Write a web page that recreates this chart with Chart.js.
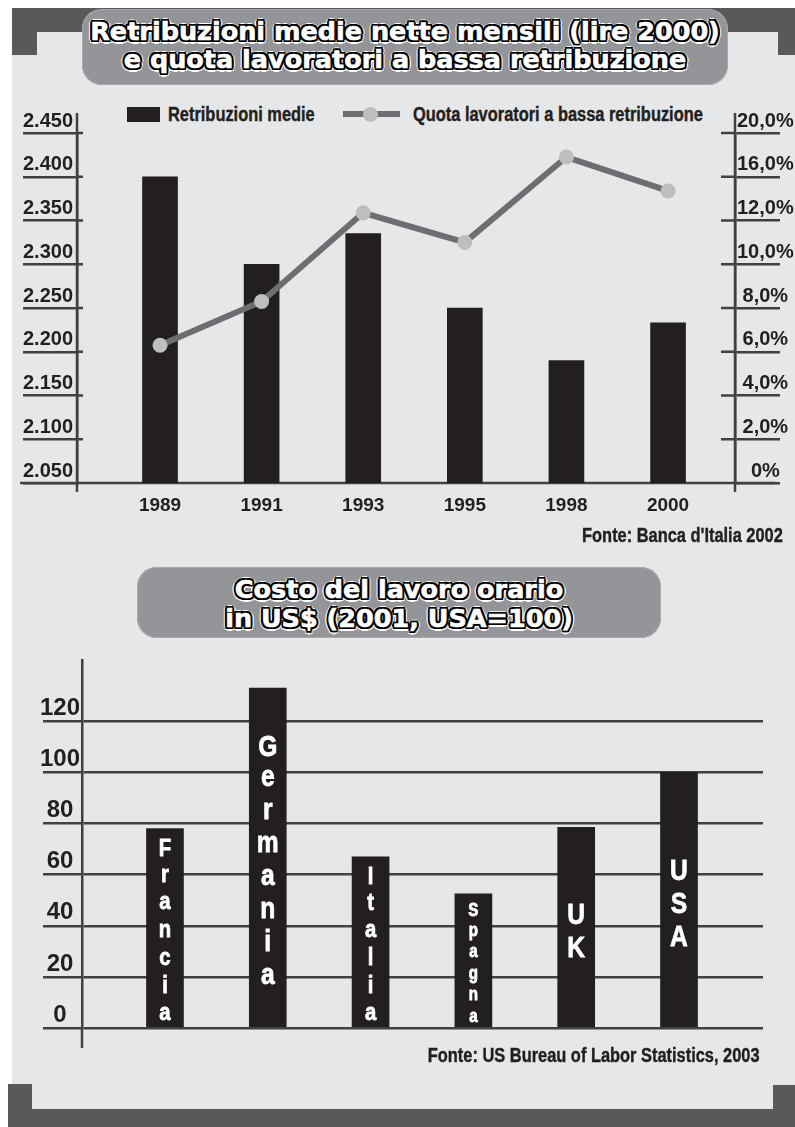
<!DOCTYPE html>
<html lang="it">
<head>
<meta charset="UTF-8">
<title>Retribuzioni medie e costo del lavoro</title>
<script src="https://cdn.jsdelivr.net/npm/chart.js@4.4.1/dist/chart.umd.min.js"></script>
<style>
  body {
    margin: 0;
    width: 795px;
    height: 1127px;
    position: relative;
    overflow: hidden;
    background: #fff;
    font-family: "Liberation Sans", Arial, sans-serif;
  }
  .abs { position: absolute; }
  #sheet { left: 12px; top: 8px; width: 783px; height: 1119px; background: #e6e7e8; }
  .frame { background: #58595b; }
  .pill {
    background: #939598;
    border-radius: 20px;
    box-shadow: inset 0 0 0 1px #a7a9ac;
  }
  .ttl {
    color: #fff;
    font-family: "DejaVu Sans", sans-serif;
    font-weight: bold;
    font-size: 25.5px;
    text-align: center;
    white-space: nowrap;
    -webkit-text-stroke: 0.6px #fff;
    text-shadow:
      2.4px 0 #000, -2.4px 0 #000, 0 2.4px #000, 0 -2.4px #000,
      1.8px 1.8px #000, -1.8px 1.8px #000, 1.8px -1.8px #000, -1.8px -1.8px #000,
      3.5px 0 #fff, -3.5px 0 #fff, 0 3.5px #fff, 0 -3.5px #fff,
      2.5px 2.5px #fff, -2.5px 2.5px #fff, 2.5px -2.5px #fff, -2.5px -2.5px #fff;
  }
  /* no narrow face installed, so squeeze Liberation Sans Bold */
  .txt {
    font-weight: bold;
    font-size: 20px;
    line-height: 22px;
    color: #231f20;
    white-space: nowrap;
    -webkit-text-stroke: 0.4px #231f20;
    transform: scaleX(0.82);
    transform-origin: left center;
  }
  .txt.r { transform-origin: right center; }
  canvas { position: absolute; left: 0; }
</style>
</head>
<body>
  <div id="sheet" class="abs"></div>

  <!-- dark frame pieces -->
  <div class="abs frame" style="left:12px;top:8px;width:783px;height:24px"></div>
  <div class="abs frame" style="left:12px;top:8px;width:25px;height:47px"></div>
  <div class="abs frame" style="left:778px;top:8px;width:17px;height:47px"></div>
  <div class="abs frame" style="left:8px;top:1109px;width:787px;height:18px"></div>
  <div class="abs frame" style="left:8px;top:1084px;width:24px;height:43px"></div>
  <div class="abs frame" style="left:773px;top:1085px;width:22px;height:42px"></div>

  <div class="abs pill" style="left:82px;top:9px;width:646px;height:76px">
    <div class="ttl" style="padding-top:8px;line-height:28px">
      Retribuzioni medie nette mensili (lire 2000)<br>e quota lavoratori a bassa retribuzione
    </div>
  </div>

  <!-- legend -->
  <div class="abs" style="left:127px;top:107px;width:33px;height:15px;background:#231f20"></div>
  <div class="abs txt" style="left:168px;top:103px">Retribuzioni medie</div>
  <div class="abs" style="left:343px;top:111px;width:57px;height:6px;background:#6d6e71"></div>
  <div class="abs" style="left:363px;top:107px;width:15px;height:15px;border-radius:50%;background:#bcbec0"></div>
  <div class="abs txt" style="left:413px;top:103px">Quota lavoratori a bassa retribuzione</div>

  <canvas id="topChart" width="795" height="440" style="top:90px"></canvas>
  <div class="abs txt r" style="right:12px;top:524px">Fonte: Banca d'Italia 2002</div>

  <div class="abs pill" style="left:137px;top:567px;width:524px;height:71px">
    <div class="ttl" style="padding-top:8px;line-height:29px">
      Costo del lavoro orario<br>in US$ (2001, USA=100)
    </div>
  </div>

  <canvas id="bottomChart" width="795" height="440" style="top:640px"></canvas>
  <div class="abs txt r" style="right:35px;top:1044px">Fonte: US Bureau of Labor Statistics, 2003</div>

<script>
  // retribuzioni (lire 2000) and share of low-paid workers (%)
  var years = ["1989", "1991", "1993", "1995", "1998", "2000"];
  var retribuzioni = [2400, 2300, 2335, 2250, 2190, 2233];
  var quotaBassa = [6.3, 8.3, 12.7, 11.0, 17.8, 14.7];
  var retribTicks = [2050, 2100, 2150, 2200, 2250, 2300, 2350, 2400, 2450];
  var quotaTicks = [0, 2, 4, 6, 8, 10, 12, 16, 20];

  // hourly labour cost, USA = 100
  var paesi = ["Francia", "Germania", "Italia", "Spagna", "UK", "USA"];
  var costoOrario = [78, 133, 67, 52.5, 78.5, 100];
  var costoTicks = [0, 20, 40, 60, 80, 100, 120];

  var axisColor = "#414042";
  var inkColor = "#231f20";

  function fmtLire(v) {
    return Math.floor(v / 1000) + "." + String(v % 1000).padStart(3, "0");
  }

  function fmtPct(v) {
    return v === 0 ? "0%" : v.toFixed(1).replace(".", ",") + "%";
  }

  // the right axis of the original has uneven steps (…12, 16, 20),
  // so values are placed piecewise between the printed ticks
  class QuotaScale extends Chart.LinearScale {
    determineDataLimits() {
      this.min = 0;
      this.max = quotaTicks.length - 1;
    }
    buildTicks() {
      return quotaTicks.map(function (v) { return { value: v }; });
    }
    getPixelForValue(value) {
      var s = quotaTicks;
      var i = 0;
      while (i < s.length - 2 && value > s[i + 1]) i++;
      var pos = i + (value - s[i]) / (s[i + 1] - s[i]);
      return super.getPixelForValue(pos);
    }
  }
  QuotaScale.id = "quota";
  QuotaScale.defaults = {};
  Chart.register(QuotaScale);

  var topExtras = {
    id: "topExtras",
    beforeDatasetsDraw: function (chart) {
      var ctx = chart.ctx;
      var a = chart.chartArea;
      var y = chart.scales.y;
      var y2 = chart.scales.y2;
      ctx.save();
      ctx.strokeStyle = axisColor;
      ctx.lineWidth = 2.5;
      ctx.beginPath();
      ctx.moveTo(a.left, a.top - 20);
      ctx.lineTo(a.left, a.bottom + 9);
      ctx.moveTo(a.right, a.top - 20);
      ctx.lineTo(a.right, a.bottom + 9);
      ctx.moveTo(20, a.bottom);
      ctx.lineTo(775, a.bottom);
      y.ticks.forEach(function (t) {
        var py = y.getPixelForValue(t.value);
        ctx.moveTo(a.left, py);
        ctx.lineTo(a.left + 6, py);
      });
      y2.ticks.forEach(function (t) {
        var py = y2.getPixelForValue(t.value);
        ctx.moveTo(a.right - 14, py);
        ctx.lineTo(a.right, py);
      });
      ctx.stroke();
      ctx.restore();
    }
  };

  new Chart(document.getElementById("topChart"), {
    type: "bar",
    data: {
      datasets: [
        {
          type: "line",
          label: "Quota lavoratori a bassa retribuzione",
          yAxisID: "y2",
          data: years.map(function (yr, i) { return { x: i, y: quotaBassa[i] }; }),
          borderColor: "#6d6e71",
          borderWidth: 6,
          pointRadius: 7.5,
          pointBackgroundColor: "#bcbec0",
          pointBorderWidth: 0,
          tension: 0,
          order: 0
        },
        {
          type: "bar",
          label: "Retribuzioni medie",
          yAxisID: "y",
          data: years.map(function (yr, i) { return { x: i, y: retribuzioni[i] }; }),
          backgroundColor: inkColor,
          barThickness: 35,
          order: 1
        }
      ]
    },
    options: {
      responsive: false,
      animation: false,
      events: [],
      layout: { padding: { top: 43, left: 0, right: 0, bottom: 0 } },
      plugins: { legend: { display: false }, tooltip: { enabled: false } },
      scales: {
        x: {
          type: "linear",
          offset: false,
          min: -0.817,
          max: 5.659,
          grid: { display: false, offset: false },
          border: { display: false },
          afterBuildTicks: function (s) {
            s.ticks = years.map(function (yr, i) { return { value: i }; });
          },
          afterFit: function (s) { s.height = 47; },
          ticks: {
            callback: function (v) { return years[v]; },
            font: { family: "Liberation Sans", weight: "bold", size: 19 },
            color: inkColor,
            padding: 3,
            maxRotation: 0,
            autoSkip: false
          }
        },
        y: {
          position: "left",
          min: 2050,
          max: 2450,
          afterBuildTicks: function (s) {
            s.ticks = retribTicks.map(function (v) { return { value: v }; });
          },
          afterFit: function (s) { s.width = 77; },
          grid: { drawOnChartArea: false, color: axisColor, lineWidth: 2.5, tickLength: 54 },
          border: { color: axisColor, width: 2.5 },
          ticks: {
            callback: fmtLire,
            font: { family: "Liberation Sans", weight: "bold", size: 20 },
            color: inkColor,
            padding: -50,
            labelOffset: -12
          }
        },
        y2: {
          type: "quota",
          position: "right",
          afterFit: function (s) { s.width = 60; },
          grid: { drawOnChartArea: false, color: axisColor, lineWidth: 2.5, tickLength: 45 },
          border: { color: axisColor, width: 2.5 },
          ticks: {
            callback: fmtPct,
            font: { family: "Liberation Sans", weight: "bold", size: 20 },
            color: inkColor,
            padding: -43,
            labelOffset: -12,
            crossAlign: "center"
          }
        }
      }
    },
    plugins: [topExtras]
  });

  // country names written letter by letter down each bar
  var barNames = {
    id: "barNames",
    afterDatasetsDraw: function (chart) {
      var ctx = chart.ctx;
      var a = chart.chartArea;
      ctx.save();
      // y axis runs a little below zero
      ctx.strokeStyle = axisColor;
      ctx.lineWidth = 2.5;
      ctx.beginPath();
      ctx.moveTo(a.left, a.bottom);
      ctx.lineTo(a.left, a.bottom + 20);
      ctx.stroke();

      ctx.fillStyle = "#fff";
      ctx.strokeStyle = "#fff";
      ctx.lineWidth = 0.8;
      ctx.textAlign = "center";
      ctx.textBaseline = "alphabetic";
      chart.getDatasetMeta(0).data.forEach(function (bar, i) {
        var letters = paesi[i].split("");
        var h = bar.base - bar.y;
        var step = Math.min(33, (h - 4) / letters.length);
        var size = Math.min(31, step - 3);
        var mid = (bar.y + bar.base) / 2 + 3;
        ctx.font = "bold " + size + 'px "Liberation Sans", Arial, sans-serif';
        letters.forEach(function (ch, k) {
          var cy = mid + (k - (letters.length - 1) / 2) * step;
          var half = (ch === ch.toUpperCase() ? 0.716 : 0.519) * size / 2;
          ctx.save();
          ctx.translate(bar.x, cy + half);
          ctx.scale(0.82, 1);
          ctx.fillText(ch, 0, 0);
          ctx.strokeText(ch, 0, 0);
          ctx.restore();
        });
      });
      ctx.restore();
    }
  };

  new Chart(document.getElementById("bottomChart"), {
    type: "bar",
    data: {
      datasets: [
        {
          label: "Costo del lavoro orario",
          data: paesi.map(function (p, i) { return { x: i, y: costoOrario[i] }; }),
          backgroundColor: inkColor,
          barThickness: 37
        }
      ]
    },
    options: {
      responsive: false,
      animation: false,
      events: [],
      layout: { padding: { top: 20, right: 32, bottom: 52, left: 0 } },
      plugins: { legend: { display: false }, tooltip: { enabled: false } },
      scales: {
        x: { type: "linear", display: false, offset: false, min: -0.807, max: 5.817 },
        y: {
          min: 0,
          max: 144,
          afterBuildTicks: function (s) {
            s.ticks = costoTicks.map(function (v) { return { value: v }; });
          },
          afterFit: function (s) { s.width = 82; },
          grid: { color: axisColor, lineWidth: 2.5, tickLength: 39 },
          border: { color: axisColor, width: 2.5 },
          ticks: {
            font: { family: "Liberation Sans", weight: "bold", size: 24 },
            color: inkColor,
            padding: -37,
            labelOffset: -13,
            crossAlign: "center"
          }
        }
      }
    },
    plugins: [barNames]
  });
</script>
</body>
</html>
